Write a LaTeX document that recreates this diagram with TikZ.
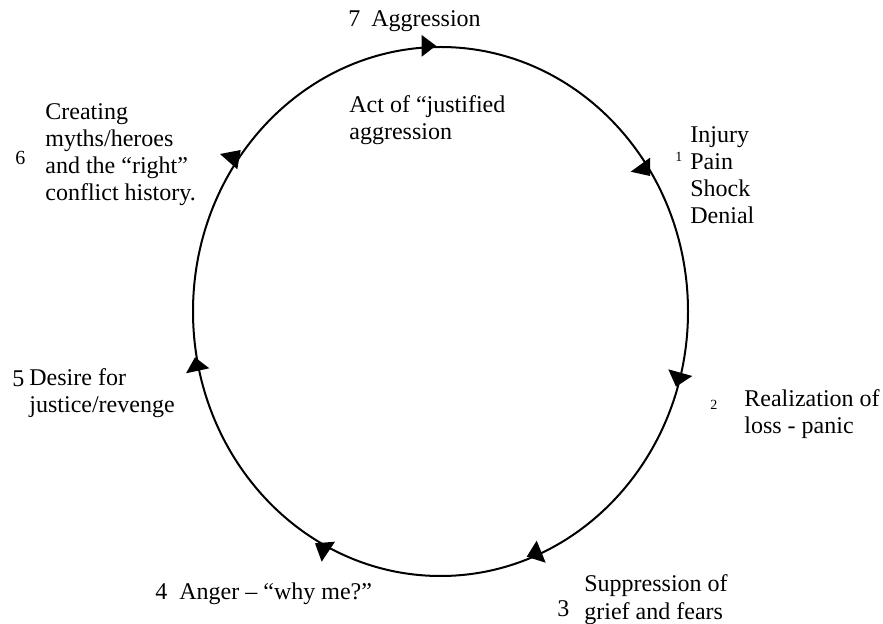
\documentclass[tikz,border=0pt]{standalone}
\usepackage{fontspec}
\setmainfont{Liberation Serif}
\begin{document}
\begin{tikzpicture}[x=0.5bp,y=-0.5bp,line join=round,
  lbl/.style={anchor=base west,inner sep=0pt,align=left,
    font=\fontsize{12bp}{13.65bp}\selectfont},
  num/.style={anchor=base west,inner sep=0pt,font=\fontsize{12bp}{13.65bp}\selectfont},
  tiny/.style={anchor=base west,inner sep=0pt,font=\fontsize{7bp}{8bp}\selectfont},
  tip/.style={fill=black}]
\useasboundingbox (0,0) rectangle (883,624);
% the cycle
\draw[line width=1bp] (440.5,311.5) ellipse [x radius=247.5,y radius=264.5];
% arrow heads
\fill[tip] (421.7,35) -- (421.7,56.7) -- (436,45.7) -- cycle;
\fill[tip] (650,157.7) -- (630.7,171.7) -- (650,176) -- cycle;
\fill[tip] (668.3,369.3) -- (692.3,376) -- (676,386.7) -- cycle;
\fill[tip] (536.7,540.7) -- (526.7,556.7) -- (545.7,562.7) -- cycle;
\fill[tip] (315,543.3) -- (335,541.7) -- (321.7,561.7) -- cycle;
\fill[tip] (186,373.3) -- (209.3,368.3) -- (195,357.3) -- cycle;
\fill[tip] (220,154) -- (240.7,150) -- (237.3,169.3) -- cycle;
% stages (multi-line labels sit on their last baseline)
\node[num] (n7) at (348,27) {7};
\node[lbl] (aggr) at (371,27) {Aggression};
\node[lbl] (act) at (349,140) {Act of “justified\\aggression};
\node[tiny] (n1) at (675,162) {1};
\node[lbl] (injury) at (690,224) {Injury\\Pain\\Shock\\Denial};
\node[tiny] (n2) at (710,410) {2};
\node[lbl] (loss) at (744,434) {Realization of\\loss - panic};
\node[num] (n3) at (557,616) {3};
\node[lbl] (supp) at (584,619) {Suppression of\\grief and fears};
\node[num] (n4) at (155,599) {4};
\node[lbl] (anger) at (179,599) {Anger – “why me?”};
\node[num] (n5) at (12,387) {5};
\node[lbl] (desire) at (29,413) {Desire for\\justice/revenge};
\node[num,font=\fontsize{10bp}{12bp}\selectfont] (n6) at (15,165) {6};
\node[lbl] (myths) at (45,201) {Creating\\myths/heroes\\and the “right”\\conflict history.};
\end{tikzpicture}
\end{document}
